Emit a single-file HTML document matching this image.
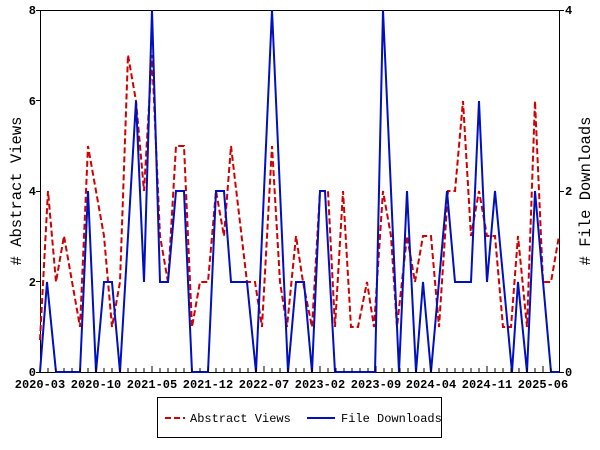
<!DOCTYPE html>
<html><head><style>body{margin:0;background:#fff}svg{display:block}</style></head><body>
<svg width="600" height="450" xmlns="http://www.w3.org/2000/svg" font-family="Liberation Mono, monospace" font-size="12" font-weight="bold">
<rect width="600" height="450" fill="#fff"/>
<g stroke="#000" stroke-width="1" fill="none">
<rect x="40.5" y="10.5" width="519" height="362"/>
<path d="M40 10.5H36M40 100.5H36M40 191.5H36M40 281.5H36M40 372.5H36M560 10.5H564M560 191.5H564M560 372.5H564"/>
</g>
<g fill="#000" text-anchor="end">
<text x="36" y="14">8</text><text x="36" y="105">6</text><text x="36" y="195">4</text><text x="36" y="286">2</text><text x="36" y="376">0</text>
</g>
<g fill="#000" text-anchor="start">
<text x="565" y="14">4</text><text x="565" y="195">2</text><text x="565" y="376">0</text>
</g>
<g fill="#000" text-anchor="middle">
<text x="40" y="388">2020-03</text><text x="96" y="388">2020-10</text><text x="152" y="388">2021-05</text><text x="208" y="388">2021-12</text><text x="264" y="388">2022-07</text><text x="320" y="388">2023-02</text><text x="376" y="388">2023-09</text><text x="431" y="388">2024-04</text><text x="487" y="388">2024-11</text><text x="543" y="388">2025-06</text>
</g>
<text transform="translate(21,191) rotate(-90)" text-anchor="middle" font-size="15.5" font-weight="normal">#  Abstract Views</text>
<text transform="translate(590,191) rotate(-90)" text-anchor="middle" font-size="15.5" font-weight="normal">#  File Downloads</text>
<polyline fill="none" stroke="#d00000" stroke-width="2" stroke-dasharray="6,3" points="40,340 48,191 56,282 64,236 80,327 88,146 96,191 104,236 112,327 120,282 128,55 136,101 144,191 152,55 160,236 168,282 176,146 184,146 192,327 200,282 208,282 216,191 224,236 231,146 247,282 255,282 262,327 272,146 280,282 287,327 296,236 303,282 312,327 320,191 328,191 335,327 343,191 351,327 358,327 367,282 374,327 383,191 391,236 397,327 407,236 415,282 423,236 431,236 439,327 448,191 455,191 463,101 471,236 479,191 487,236 495,236 503,327 511,327 518,236 527,327 535,101 543,282 551,282 559,236"/>
<polyline fill="none" stroke="#0010c0" stroke-width="2" points="40,372 47,282 56,372 80,372 88,191 96,372 104,282 112,282 120,372 136,101 144,282 152,10 160,282 168,282 176,191 184,191 192,372 208,372 216,191 224,191 231,282 247,282 256,372 272,10 288,372 296,282 304,282 312,372 320,191 325,191 335,372 375,372 383,10 399,372 407,191 416,372 423,282 431,372 447,191 455,282 471,282 479,101 487,282 495,191 512,372 518,282 527,372 535,191 551,372 559,372"/>
<g stroke="#000">
<path d="M48 372v-4M56 372v-4M64 372v-4M72 372v-4M80 372v-4M88 372v-4M96 372v-6M104 372v-4M112 372v-4M120 372v-4M128 372v-4M136 372v-4M144 372v-4M152 372v-6M160 372v-4M168 372v-4M176 372v-4M184 372v-4M192 372v-4M200 372v-4M208 372v-6M216 372v-4M224 372v-4M232 372v-4M240 372v-4M248 372v-4M256 372v-4M264 372v-6M272 372v-4M280 372v-4M288 372v-4M296 372v-4M304 372v-4M312 372v-4M320 372v-6M328 372v-4M336 372v-4M344 372v-4M352 372v-4M360 372v-4M368 372v-4M376 372v-6M384 372v-4M392 372v-4M400 372v-4M408 372v-4M416 372v-4M424 372v-4M431 372v-6M439 372v-4M447 372v-4M455 372v-4M463 372v-4M471 372v-4M479 372v-4M487 372v-6M495 372v-4M503 372v-4M511 372v-4M519 372v-4M527 372v-4M535 372v-4M543 372v-6M551 372v-4"/>
</g>
<rect x="157.5" y="397.5" width="284" height="40" fill="#fff" stroke="#000"/>
<line x1="165" y1="418" x2="185" y2="418" stroke="#d00000" stroke-width="2" stroke-dasharray="6,3"/>
<text x="190" y="422" font-weight="normal">Abstract Views</text>
<line x1="307" y1="418" x2="335" y2="418" stroke="#0010c0" stroke-width="2"/>
<text x="341" y="422" font-weight="normal">File Downloads</text>
</svg>
</body></html>
